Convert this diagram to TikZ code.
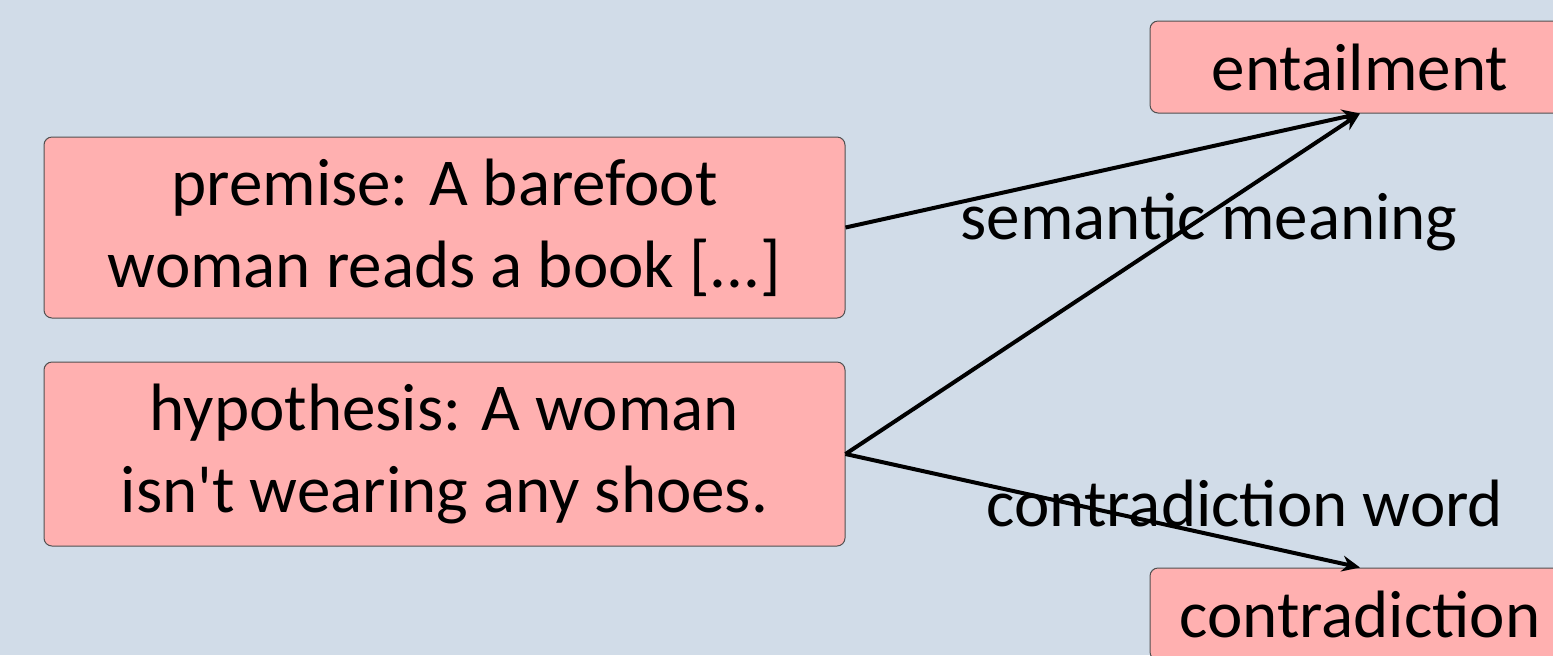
\documentclass[tikz,border=0pt]{standalone}
\usepackage{fontspec}
\setmainfont{Carlito}[Ligatures=TeXOff]
\usetikzlibrary{arrows.meta}
\definecolor{bgc}{RGB}{209,220,232}
\definecolor{boxc}{RGB}{255,176,176}
\definecolor{edgec}{RGB}{80,80,80}
\tikzset{
  pbox/.style={draw=edgec, line width=0.5pt, fill=boxc, rounded corners=4pt,
    align=center, inner sep=0pt, font=\fontsize{33.5}{41}\selectfont},
  lbl/.style={inner sep=0pt, font=\fontsize{33.5}{41}\selectfont},
  conn/.style={line width=2pt, -{Stealth[length=9pt, width=8pt, inset=3pt]}}
}
\begin{document}
\begin{tikzpicture}[x=0.5pt, y=-0.5pt]
\fill[bgc] (0,0) rectangle (1553,655);
\useasboundingbox (0,0) rectangle (1553,655);
\node[pbox, minimum width=400.5pt, minimum height=90.5pt] (prem) at (444.5,227.5)
  {premise: A barefoot\\woman reads a book [...]};
\node[pbox, minimum width=400.5pt, minimum height=92pt] (hyp) at (444.5,454)
  {hypothesis: A woman\\isn't wearing any shoes.};
\node[pbox, minimum width=210pt, minimum height=46pt] (ent) at (1360,67) {entailment};
\node[pbox, minimum width=210pt, minimum height=46pt] (con) at (1360,614) {contradiction};
\node[lbl] (sem) at (1209,222) {semantic meaning};
\node[lbl] (cw) at (1245,503) {contradiction word};
\draw[conn] (prem.east) -- (ent.south);
\draw[conn] (hyp.east) -- (ent.south);
\draw[conn] (hyp.east) -- (con.north);
\end{tikzpicture}
\end{document}
